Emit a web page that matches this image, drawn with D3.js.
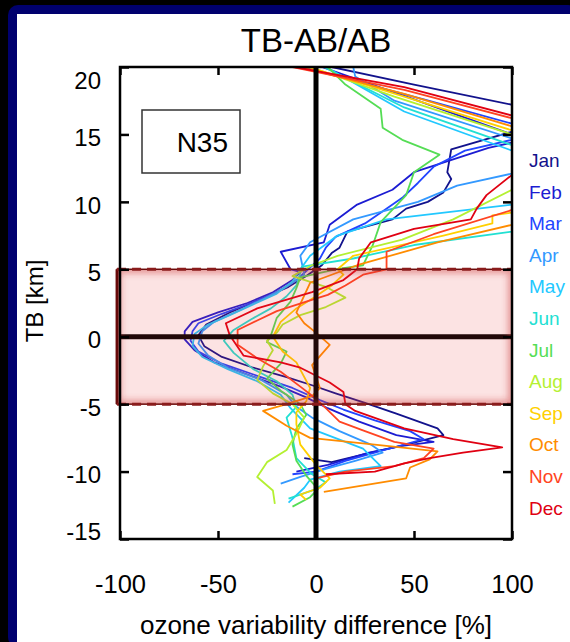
<!DOCTYPE html>
<html><head><meta charset="utf-8">
<script src="https://cdn.jsdelivr.net/npm/d3@7"></script>
<style>body{margin:0;background:#000;}svg{display:block;}</style>
</head><body>
<script>
const months = ["Jan","Feb","Mar","Apr","May","Jun","Jul","Aug","Sep","Oct","Nov","Dec"];
const monthColors = ["#12128c","#1c1cd2","#2244ff","#3399ff","#22c8ff","#22e0d2","#55dd55","#b4f032","#ffd000","#ff8c00","#ff4422","#e00012"];
const xTicks = [-100,-50,0,50,100];
const yTicks = [-15,-10,-5,0,5,10,15,20];
const regionLabel = "N35";
// profiles: [ozone variability difference %, TB km]
const jan = [[-6,-9.0],[8,-9.3],[28,-8.6],[46,-8.0],[65,-7.3],[62,-6.8],[41,-5.7],[25,-4.9],[10,-4.2],[-2,-3.6],[-15,-3.0],[-32,-2.3],[-48,-1.5],[-57,-0.7],[-60,0.1],[-56,0.9],[-44,1.8],[-28,2.8],[-14,3.7],[-5,4.5],[3,5.3],[8,6.2],[12,6.6],[16,7.8],[39,8.7],[46,9.5],[57,10.0],[65,10.7],[69,11.7],[67,12.2],[69,13.9],[100,15.2],[118,16.2],[100,17.2],[50,18.7],[8,20]];
const feb = [[-10,-10.0],[6,-9.5],[27,-8.6],[44,-8.1],[60,-7.8],[41,-7.3],[22,-6.3],[6,-5.3],[-5,-4.5],[-18,-3.7],[-35,-2.8],[-52,-1.9],[-62,-1.0],[-67,-0.2],[-67,0.4],[-63,1.1],[-50,1.8],[-35,2.5],[-22,3.3],[-12,4.2],[-8,4.8],[-13,5.0],[-18,6.3],[4,7.0],[7,8.3],[21,9.8],[39,10.9],[50,12.2],[88,14.0],[100,14.4],[112,14.7],[100,15.0],[50,17.6],[3,20]];
const mar = [[-12,-10.2],[0,-10.0],[15,-9.2],[35,-8.4],[55,-7.6],[48,-7.0],[30,-6.2],[14,-5.4],[2,-4.7],[-12,-3.8],[-30,-2.9],[-48,-2.0],[-60,-1.1],[-64,-0.3],[-63,0.4],[-60,1.0],[-48,1.7],[-33,2.5],[-20,3.3],[-10,4.2],[-4,5.0],[2,5.8],[5,6.6],[10,7.4],[25,8.4],[35,9.4],[44,10.3],[52,11.4],[60,12.6],[76,13.8],[100,14.6],[118,15.2],[100,15.8],[55,17.6],[-7,20]];
const apr = [[-18,-10.9],[-8,-10.4],[5,-9.8],[20,-9.2],[34,-8.6],[28,-8.0],[12,-7.0],[-2,-6.0],[-10,-5.2],[-15,-4.3],[-28,-3.2],[-45,-2.3],[-55,-1.4],[-60,-0.5],[-58,0.4],[-52,1.1],[-40,1.9],[-27,2.8],[-15,3.7],[-6,4.6],[-8,6.0],[-3,7.0],[19,8.7],[52,10.0],[72,11.2],[100,12.1],[115,12.8],[100,14.7],[40,17.5],[20,19.3],[19,20]];
const may = [[-14,-12.3],[-6,-11.2],[-3,-10.6],[12,-10.0],[33,-9.6],[24,-8.3],[-3,-6.8],[-13,-5.3],[-18,-4.3],[-30,-3.3],[-45,-2.4],[-58,-1.5],[-63,-0.7],[-62,0.2],[-55,0.9],[-44,1.6],[-32,2.4],[-20,3.2],[-12,4.1],[-8,5.0],[-3,6.0],[11,7.5],[36,8.7],[100,9.8],[115,11],[100,13.8],[45,16.7],[5,20]];
const jun = [[-14,-12.0],[0,-11.3],[5,-10.8],[-2,-10.2],[-10,-9.0],[-12,-7.5],[-15,-6.0],[-10,-5.2],[-12,-4.3],[-20,-3.3],[-32,-2.4],[-42,-1.2],[-47,-0.3],[-42,0.5],[-33,1.3],[-23,2.1],[-15,3.0],[-10,3.8],[-7,5.2],[19,5.8],[50,6.8],[100,7.8],[118,10],[100,14.2],[45,17],[4,20]];
const jul = [[-12,-12.6],[-3,-11.9],[1,-11.3],[-5,-10.3],[-10,-9.2],[-12,-8.0],[-10,-6.8],[-5,-5.8],[-8,-5.0],[-18,-4.0],[-25,-3.1],[-18,-2.0],[-15,-1.1],[-25,-0.4],[-23,0.1],[-20,1.4],[-13,2.6],[-10,3.6],[-8,4.4],[10,5.0],[24,5.3],[29,6.8],[33,8.5],[46,10.5],[50,12.2],[63,13.5],[44,14.6],[34,15.5],[33,16.9],[15,18.7],[6,20]];
const aug = [[-21,-12.4],[-22,-11.4],[-30,-10.4],[-25,-9.3],[-15,-8.4],[-10,-7.2],[-6,-6.0],[-12,-5.0],[-22,-4.2],[-30,-3.2],[-27,-2.2],[-22,-1.0],[-25,-0.3],[-20,0.3],[-17,0.9],[-8,1.6],[5,2.2],[15,2.9],[5,3.7],[-12,4.5],[-2,5.3],[11,6.0],[44,7.2],[70,8.7],[100,10.9],[115,12],[100,15.0],[40,17.8],[-3,20]];
const sep = [[-5,-12.1],[-8,-11.7],[2,-11.2],[7,-10.5],[0,-9.5],[-8,-8.0],[-10,-6.5],[-10,-5.6],[-5,-4.8],[-3,-3.8],[-10,-1.9],[-17,-1.1],[-22,0.0],[-18,1.1],[-10,2.1],[-1,2.9],[8,3.8],[14,4.6],[11,5.0],[19,6.0],[65,7.5],[90,8.4],[90,9.0],[100,9.2],[115,11],[100,15.3],[45,17.8],[-4,20]];
const oct = [[4,-11.5],[25,-11.0],[46,-10.5],[48,-9.7],[58,-9.1],[62,-8.5],[30,-8.0],[-3,-7.5],[-15,-6.6],[-27,-5.5],[-15,-5.0],[-2,-4.4],[2,-3.8],[-2,-2.1],[7,-0.6],[0,0.3],[-6,1.0],[-10,1.8],[-3,4.0],[21,5.3],[62,7.0],[100,8.3],[118,11],[100,15.6],[45,18],[-8,20]];
const nov = [[0,-10.5],[15,-10.0],[40,-9.6],[55,-9.0],[60,-8.3],[40,-7.8],[25,-7.0],[12,-6.3],[5,-5.3],[0,-4.6],[-8,-3.7],[-18,-2.6],[-30,-1.6],[-40,-0.6],[-40,0.5],[-30,1.2],[-20,1.9],[-5,2.6],[6,3.1],[15,3.8],[24,4.6],[36,5.0],[36,6.3],[60,7.6],[100,9.4],[118,12],[100,16.2],[45,18.3],[-12,20]];
const dec = [[5,-10.2],[30,-10.0],[45,-9.4],[58,-9.0],[75,-8.6],[95,-8.2],[70,-7.6],[45,-6.8],[20,-5.5],[15,-5.0],[14,-4.1],[7,-3.4],[-8,-2.3],[-18,-1.9],[-37,-1.4],[-44,0.1],[-46,1.0],[-30,2.1],[-2,3.3],[14,4.2],[21,5.0],[22,5.8],[28,7.0],[50,8.0],[79,8.7],[82,9.5],[87,10.5],[100,12],[118,14],[100,16.4],[45,18.5],[-11,20]];
const profiles = [jan,feb,mar,apr,may,jun,jul,aug,sep,oct,nov,dec];
const band = [-5,5];

const W=570,H=642;
const svg=d3.select("body").append("svg").attr("width",W).attr("height",H);
svg.append("rect").attr("width",W).attr("height",H).attr("fill","#000");
svg.append("rect").attr("x",8).attr("y",5).attr("width",W).attr("height",H).attr("rx",10).attr("fill","#00006e");
svg.append("rect").attr("x",17).attr("y",14).attr("width",W).attr("height",H).attr("fill","#fff");

const x=d3.scaleLinear().domain([-100,100]).range([120,512]);
const y=d3.scaleLinear().domain([-15,20]).range([539,67]);

const defs=svg.append("defs");
defs.append("clipPath").attr("id","plot").append("rect")
  .attr("x",x(-100)).attr("y",y(20)).attr("width",x(100)-x(-100)).attr("height",y(-15)-y(20));

const line=d3.line().x(d=>x(d[0])).y(d=>y(d[1]));
const g=svg.append("g").attr("clip-path","url(#plot)");
profiles.forEach((p,i)=>{
  g.append("path").attr("d",line(p)).attr("fill","none").attr("stroke",monthColors[i]).attr("stroke-width",1.8).attr("stroke-linejoin","round");
});

// zero lines
svg.append("line").attr("x1",x(0)).attr("x2",x(0)).attr("y1",y(20)).attr("y2",y(-15)).attr("stroke","#000").attr("stroke-width",5);
svg.append("line").attr("x1",x(-100)).attr("x2",x(100)).attr("y1",y(0)).attr("y2",y(0)).attr("stroke","#000").attr("stroke-width",5);

// band overlay
const bx=x(-101.5), bw=x(100)-x(-101.5), by=y(band[1]), bh=y(band[0])-y(band[1]);
const fl=defs.append("filter").attr("id","blur").attr("x","-5%").attr("y","-5%").attr("width","110%").attr("height","110%");
fl.append("feGaussianBlur").attr("stdDeviation",3);
defs.append("clipPath").attr("id","bandclip").append("rect").attr("x",bx).attr("y",by).attr("width",bw).attr("height",bh);
svg.append("rect").attr("x",bx).attr("y",by).attr("width",bw).attr("height",bh).attr("fill","rgba(235,60,60,0.14)");
svg.append("g").attr("clip-path","url(#bandclip)").append("rect").attr("x",bx).attr("y",by).attr("width",bw).attr("height",bh)
  .attr("fill","none").attr("stroke","rgba(200,50,50,0.45)").attr("stroke-width",8).attr("filter","url(#blur)");
svg.append("rect").attr("x",bx).attr("y",by).attr("width",bw).attr("height",bh).attr("fill","none").attr("stroke","#6a0a0a").attr("stroke-width",1.5);
svg.append("line").attr("x1",bx).attr("x2",bx).attr("y1",by).attr("y2",by+bh).attr("stroke","#6a0a0a").attr("stroke-width",3);
[by,by+bh].forEach(yy=>svg.append("line").attr("x1",bx).attr("x2",bx+bw).attr("y1",yy).attr("y2",yy)
  .attr("stroke","#8a1c1c").attr("stroke-width",3).attr("stroke-dasharray","9,6"));

// axes
const font="Liberation Sans, Arial, Helvetica, sans-serif";
const ax=svg.append("g").attr("font-family",font);
const axBottom=ax.append("g").attr("transform",`translate(0,${y(-15)})`)
  .call(d3.axisBottom(x).tickValues(xTicks).tickSizeInner(-8).tickSizeOuter(0).tickPadding(36).tickFormat(d3.format("d")));
const axTop=ax.append("g").attr("transform",`translate(0,${y(20)})`)
  .call(d3.axisTop(x).tickValues(xTicks).tickSizeInner(-8).tickSizeOuter(0).tickFormat(""));
const axLeft=ax.append("g").attr("transform",`translate(${x(-100)},0)`)
  .call(d3.axisLeft(y).tickValues(yTicks).tickSizeInner(-9).tickSizeOuter(0).tickPadding(19).tickFormat(d3.format("d")));
const axRight=ax.append("g").attr("transform",`translate(${x(100)},0)`)
  .call(d3.axisRight(y).tickValues(yTicks).tickSizeInner(-9).tickSizeOuter(0).tickFormat(""));
[axBottom,axTop,axLeft,axRight].forEach(a=>{a.select(".domain").remove();a.selectAll(".tick line").attr("stroke","#000").attr("stroke-width",2.5);});
axBottom.selectAll(".tick text").attr("font-size",25.5).attr("fill","#000").attr("font-family",font).text(d=>d<0?"-"+Math.abs(d):d);
axLeft.selectAll(".tick text").attr("font-size",24).attr("fill","#000").attr("font-family",font).text(d=>d<0?"-"+Math.abs(d):d)
  .attr("transform",d=>`translate(0,${d===20?14:(d===-15?-7:3.5)})`);
svg.append("rect").attr("x",x(-100)).attr("y",y(20)).attr("width",x(100)-x(-100)).attr("height",y(-15)-y(20))
  .attr("fill","none").attr("stroke","#000").attr("stroke-width",2.5);

// titles
svg.append("text").attr("x",316).attr("y",52).attr("text-anchor","middle").attr("font-family",font).attr("font-size",33).text("TB-AB/AB");
svg.append("text").attr("x",316).attr("y",634).attr("text-anchor","middle").attr("font-family",font).attr("font-size",26).text("ozone variability difference [%]");
svg.append("text").attr("transform","translate(43,301) rotate(-90)").attr("text-anchor","middle").attr("font-family",font).attr("font-size",24).text("TB [km]");

// region box
svg.append("rect").attr("x",142).attr("y",110).attr("width",98).attr("height",63).attr("fill","#fff").attr("stroke","#333").attr("stroke-width",1.5);
svg.append("text").attr("x",228).attr("y",152).attr("text-anchor","end").attr("font-family",font).attr("font-size",28).text(regionLabel);

// legend
months.forEach((m,i)=>{
  svg.append("text").attr("x",529).attr("y",167+i*31.6).attr("font-family",font).attr("font-size",19).attr("fill",monthColors[i]).text(m);
});
</script>
</body></html>
